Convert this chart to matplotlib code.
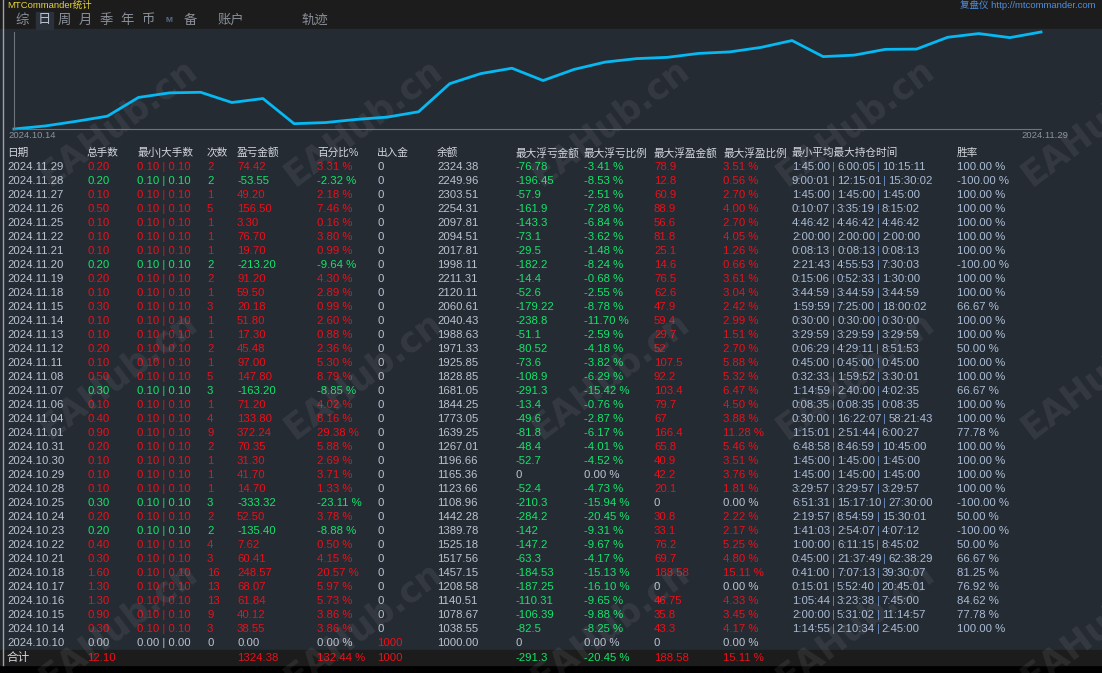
import matplotlib
matplotlib.use("Agg")
import matplotlib.pyplot as plt
from matplotlib.patches import Rectangle

plt.rcParams['font.family'] = ['Liberation Sans', 'Noto Sans CJK SC', 'DejaVu Sans']

# daily statistics, newest first
dates = ["2024.11.29", "2024.11.28", "2024.11.27", "2024.11.26", "2024.11.25", "2024.11.22",
         "2024.11.21", "2024.11.20", "2024.11.19", "2024.11.18", "2024.11.15", "2024.11.14",
         "2024.11.13", "2024.11.12", "2024.11.11", "2024.11.08", "2024.11.07", "2024.11.06",
         "2024.11.04", "2024.11.01", "2024.10.31", "2024.10.30", "2024.10.29", "2024.10.28",
         "2024.10.25", "2024.10.24", "2024.10.23", "2024.10.22", "2024.10.21", "2024.10.18",
         "2024.10.17", "2024.10.16", "2024.10.15", "2024.10.14", "2024.10.10"]
lots = [0.20, 0.20, 0.10, 0.50, 0.10, 0.10, 0.10, 0.20, 0.20, 0.10, 0.30, 0.10, 0.10, 0.20,
        0.10, 0.50, 0.30, 0.10, 0.40, 0.90, 0.20, 0.10, 0.10, 0.10, 0.30, 0.20, 0.20, 0.40,
        0.30, 1.60, 1.30, 1.30, 0.90, 0.30, 0.00]
min_lot = [0.10] * 34 + [0.00]
max_lot = [0.10] * 34 + [0.00]
trades = [2, 2, 1, 5, 1, 1, 1, 2, 2, 1, 3, 1, 1, 2, 1, 5, 3, 1, 4, 9, 2, 1, 1, 1, 3, 2, 2, 4,
          3, 16, 13, 13, 9, 3, 0]
pnl = [74.42, -53.55, 49.20, 156.50, 3.30, 76.70, 19.70, -213.20, 91.20, 59.50, 20.18, 51.80,
       17.30, 45.48, 97.00, 147.80, -163.20, 71.20, 133.80, 372.24, 70.35, 31.30, 41.70, 14.70,
       -333.32, 52.50, -135.40, 7.62, 60.41, 248.57, 68.07, 61.84, 40.12, 38.55, 0.00]
pnl_pct = [3.31, -2.32, 2.18, 7.46, 0.16, 3.80, 0.99, -9.64, 4.30, 2.89, 0.99, 2.60, 0.88, 2.36,
           5.30, 8.79, -8.85, 4.02, 8.16, 29.38, 5.88, 2.69, 3.71, 1.33, -23.11, 3.78, -8.88,
           0.50, 4.15, 20.57, 5.97, 5.73, 3.86, 3.86, 0.00]
cash_flow = [0] * 34 + [1000]
balance = [2324.38, 2249.96, 2303.51, 2254.31, 2097.81, 2094.51, 2017.81, 1998.11, 2211.31,
           2120.11, 2060.61, 2040.43, 1988.63, 1971.33, 1925.85, 1828.85, 1681.05, 1844.25,
           1773.05, 1639.25, 1267.01, 1196.66, 1165.36, 1123.66, 1108.96, 1442.28, 1389.78,
           1525.18, 1517.56, 1457.15, 1208.58, 1140.51, 1078.67, 1038.55, 1000.00]
max_loss = [-76.78, -196.45, -57.9, -161.9, -143.3, -73.1, -29.5, -182.2, -14.4, -52.6, -179.22,
            -238.8, -51.1, -80.52, -73.6, -108.9, -291.3, -13.4, -49.6, -81.8, -48.4, -52.7, 0,
            -52.4, -210.3, -284.2, -142, -147.2, -63.3, -184.53, -187.25, -110.31, -106.39,
            -82.5, 0]
max_loss_pct = [-3.41, -8.53, -2.51, -7.28, -6.84, -3.62, -1.48, -8.24, -0.68, -2.55, -8.78,
                -11.70, -2.59, -4.18, -3.82, -6.29, -15.42, -0.76, -2.87, -6.17, -4.01, -4.52,
                0.00, -4.73, -15.94, -20.45, -9.31, -9.67, -4.17, -15.13, -16.10, -9.65, -9.88,
                -8.25, 0.00]
max_gain = [78.9, 12.8, 60.9, 88.9, 56.6, 81.8, 25.1, 14.6, 76.5, 62.6, 47.9, 59.4, 29.7, 52,
            107.5, 92.2, 103.4, 79.7, 67, 166.4, 65.8, 40.9, 42.2, 20.1, 0, 30.8, 33.1, 76.2,
            69.7, 188.58, 0, 46.75, 35.8, 43.3, 0]
max_gain_pct = [3.51, 0.56, 2.70, 4.00, 2.70, 4.05, 1.26, 0.66, 3.61, 3.04, 2.42, 2.99, 1.51,
                2.70, 5.88, 5.32, 6.47, 4.50, 3.88, 11.28, 5.46, 3.51, 3.76, 1.81, 0.00, 2.22,
                2.17, 5.25, 4.80, 15.11, 0.00, 4.33, 3.45, 4.17, 0.00]
hold_min = ["1:45:00", "9:00:01", "1:45:00", "0:10:07", "4:46:42", "2:00:00", "0:08:13",
            "2:21:43", "0:15:06", "3:44:59", "1:59:59", "0:30:00", "3:29:59", "0:06:29",
            "0:45:00", "0:32:33", "1:14:59", "0:08:35", "0:30:00", "1:15:01", "6:48:58",
            "1:45:00", "1:45:00", "3:29:57", "6:51:31", "2:19:57", "1:41:03", "1:00:00",
            "0:45:00", "0:41:00", "0:15:01", "1:05:44", "2:00:00", "1:14:55", ""]
hold_avg = ["6:00:05", "12:15:01", "1:45:00", "3:35:19", "4:46:42", "2:00:00", "0:08:13",
            "4:55:53", "0:52:33", "3:44:59", "7:25:00", "0:30:00", "3:29:59", "4:29:11",
            "0:45:00", "1:59:52", "2:40:00", "0:08:35", "16:22:07", "2:51:44", "8:46:59",
            "1:45:00", "1:45:00", "3:29:57", "15:17:10", "8:54:59", "2:54:07", "6:11:15",
            "21:37:49", "7:07:13", "5:52:40", "3:23:38", "5:31:02", "2:10:34", ""]
hold_max = ["10:15:11", "15:30:02", "1:45:00", "8:15:02", "4:46:42", "2:00:00", "0:08:13",
            "7:30:03", "1:30:00", "3:44:59", "18:00:02", "0:30:00", "3:29:59", "8:51:53",
            "0:45:00", "3:30:01", "4:02:35", "0:08:35", "58:21:43", "6:00:27", "10:45:00",
            "1:45:00", "1:45:00", "3:29:57", "27:30:00", "15:30:01", "4:07:12", "8:45:02",
            "62:38:29", "39:30:07", "20:45:01", "7:45:00", "11:14:57", "2:45:00", ""]
win_rate = [100, -100, 100, 100, 100, 100, 100, -100, 100, 100, 66.67, 100, 100, 50, 100, 100,
            66.67, 100, 100, 77.78, 100, 100, 100, 100, -100, 50, -100, 50, 66.67, 81.25, 76.92,
            84.62, 77.78, 100, None]

headers = ["日期", "总手数", "最小|大手数", "次数", "盈亏金额", "百分比%", "出入金", "余额",
           "最大浮亏金额", "最大浮亏比例", "最大浮盈金额", "最大浮盈比例", "最小平均最大持仓时间", "胜率"]
tabs = ["综", "日", "周", "月", "季", "年", "币", "M", "备", "账户", "轨迹"]

total_lots = "12.10"
total_pnl = "1324.38"
total_pct = "132.44 %"
total_flow = "1000"
total_max_loss = "-291.3"
total_max_loss_pct = "-20.45 %"
total_max_gain = "188.58"
total_max_gain_pct = "15.11 %"

# colours
RED = "#ec0f1a"
GREEN = "#12e46a"
GRAY = "#b9c3d0"
TIME = "#a9bcd6"
HEAD = "#d2d6dc"
BAR1 = "#b87a3c"
BAR2 = "#6a90c8"
PANEL = "#252b33"
TOPBAR = "#1c1c1c"

W, H = 1102, 673
fig = plt.figure(figsize=(W / 100, H / 100), dpi=100)
fig.patch.set_facecolor("black")
ax = fig.add_axes([0, 0, 1, 1])
ax.set_xlim(0, W)
ax.set_ylim(H, 0)
ax.axis("off")

# panels
ax.add_patch(Rectangle((0, 0), W, 29, color=TOPBAR, zorder=0))
ax.add_patch(Rectangle((0, 29), W, 621, color=PANEL, zorder=0))
ax.add_patch(Rectangle((0, 650), W, 15, color="#1c1c1c", zorder=0))
ax.plot([2.5, 2.5], [0, 665], color="#9aa2ac", lw=1, zorder=1)

# top header texts
ax.text(7, 0.5, "MTCommander统计", color="#e6d23c", fontsize=6.8, va="top", ha="left")
ax.text(1095, 0.5, "复盘仪 http://mtcommander.com", color="#4f8fe0", fontsize=6.8,
        va="top", ha="right")

# tabs
tab_x = [22, 44, 64, 85, 106, 127, 148, 169, 190, 218, 302]
ax.add_patch(Rectangle((36, 12), 17, 17, color="#2a313b", zorder=0.5))
for t, x in zip(tabs, tab_x):
    col = "#8a9099" if t != "日" else "#b8c0ca"
    if t == "M":
        ax.text(x, 20.5, t, color="#5a6a90", fontsize=6, va="center", ha="center",
                fontweight="bold")
    else:
        ax.text(x, 20.5, t, color=col, fontsize=9.6, va="center",
                ha="center" if len(t) == 1 else "left")

# equity curve (chronological)
curve = balance[-2::-1]
cax = fig.add_axes([14 / W, 1 - 129 / H, (1041 - 14) / W, (129 - 32) / H])
cax.set_facecolor("none")
cax.plot(range(len(curve)), curve, color="#06b9f2", lw=2, clip_on=False)
cax.set_xlim(0, len(curve) - 1)
cax.set_ylim(min(curve), max(curve))
cax.set_xticks([])
cax.set_yticks([])
for s in ["top", "right"]:
    cax.spines[s].set_visible(False)
cax.spines["left"].set_color("#6e747c")
cax.spines["bottom"].set_color("#6e747c")
ax.text(8, 135, dates[-2], color="#8c929a", fontsize=6.8, va="center", ha="left")
ax.text(1068, 135, dates[0], color="#8c929a", fontsize=6.8, va="center", ha="right")

# table
col_x = [7, 87, 137, 207, 237, 317, 377, 437, 515, 584, 654, 723, 792, 957]
FS = 8.2
for h, x in zip(headers, col_x):
    ax.text(x, 153, h, color=HEAD, fontsize=7.7, va="center", ha="left")

renderer = fig.canvas.get_renderer()


def draw_runs(x, y, parts):
    for s, c, gap in parts:
        t = ax.text(x, y, s, color=c, fontsize=FS, va="center", ha="left")
        x += t.get_window_extent(renderer).width + gap


def sign_color(v, pos=RED, neg=GREEN):
    if v > 0:
        return pos
    if v < 0:
        return neg
    return GRAY


row0, dy = 167, 14
for i in range(len(dates)):
    y = row0 + i * dy
    c = sign_color(pnl[i])
    cells = [
        (dates[i], GRAY),
        ("%.2f" % lots[i], c),
        ("%.2f | %.2f" % (min_lot[i], max_lot[i]), c),
        ("%d" % trades[i], c),
        ("%.2f" % pnl[i], c),
        ("%.2f %%" % pnl_pct[i], c),
        ("%d" % cash_flow[i], RED if cash_flow[i] > 0 else GRAY),
        ("%.2f" % balance[i], GRAY),
        ("%g" % max_loss[i], sign_color(max_loss[i])),
        ("%.2f %%" % max_loss_pct[i], sign_color(max_loss_pct[i])),
        ("%g" % max_gain[i], sign_color(max_gain[i])),
        ("%.2f %%" % max_gain_pct[i], sign_color(max_gain_pct[i])),
    ]
    for (s, col), x in zip(cells, col_x):
        ax.text(x, y, s, color=col, fontsize=FS, va="center", ha="left")
    if hold_min[i]:
        draw_runs(col_x[12], y, [(hold_min[i], TIME, 2), ("|", BAR1, 2),
                                 (hold_avg[i], TIME, 2), ("|", BAR2, 2),
                                 (hold_max[i], TIME, 0)])
    if win_rate[i] is not None:
        ax.text(col_x[13], y, "%.2f %%" % win_rate[i], color=TIME, fontsize=FS,
                va="center", ha="left")

# total row
yt = 658
ax.text(col_x[0], yt, "合计", color=HEAD, fontsize=8.4, va="center", ha="left")
totals = [(1, total_lots, RED), (4, total_pnl, RED), (5, total_pct, RED), (6, total_flow, RED),
          (8, total_max_loss, GREEN), (9, total_max_loss_pct, GREEN),
          (10, total_max_gain, RED), (11, total_max_gain_pct, RED)]
for k, s, col in totals:
    ax.text(col_x[k], yt, s, color=col, fontsize=FS, va="center", ha="left")

# watermark
for wy in [122, 375, 625]:
    for wx in [118, 363, 610, 855, 1100]:
        ax.text(wx, wy, "EAHub.cn", color="white", alpha=0.075, fontsize=25,
                fontweight="bold", rotation=37, ha="center", va="center",
                family="DejaVu Sans", zorder=20)

fig.savefig("out.png", dpi=100, facecolor=fig.get_facecolor())
